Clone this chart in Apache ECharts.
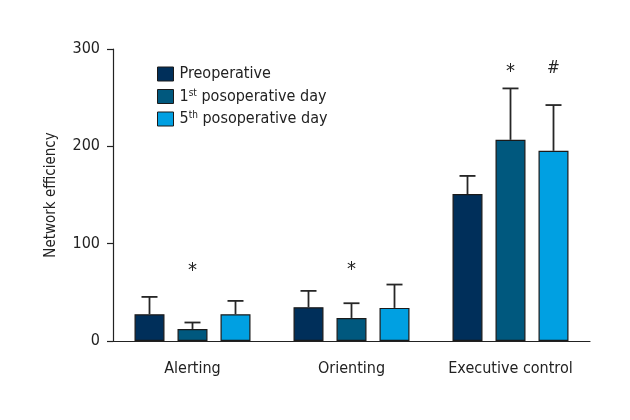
<!DOCTYPE html>
<html><head><meta charset="utf-8">
<script src="https://cdn.jsdelivr.net/npm/echarts@6/dist/echarts.min.js"></script>
<style>html,body{margin:0;padding:0;background:#fff}#c{width:630px;height:420px}</style>
</head><body><div id="c"></div>
<script>
var categories = ['Alerting', 'Orienting', 'Executive control'];
var seriesNames = ['Preoperative', '1st posoperative day', '5th posoperative day'];
var preMean = [27.5, 34.7, 151];
var preErr  = [17.8, 16.8, 18.6];
var day1Mean = [12.4, 23.7, 206.7];
var day1Err  = [6.6, 15.1, 52.8];
var day5Mean = [27.5, 34, 195.4];
var day5Err  = [13.7, 24, 47];
var yTicks = [0, 100, 200, 300];
// annotations: [category index, series index, value, symbol]
var marks = [[0, 1, 75, '*'], [1, 1, 76, '*'], [2, 1, 280, '*'], [2, 2, 280, '#']];

var colors = ['#002f5a', '#00587e', '#00a0e2'];
var FONT = '"Liberation Sans Narrow", "DejaVu Sans Condensed", sans-serif';
var BW = 30, GAP = 13;
var means = [preMean, day1Mean, day5Mean];
var errs = [preErr, day1Err, day5Err];

var chart = echarts.init(document.getElementById('c'));
var series = [];
means.forEach(function (m, i) {
  series.push({
    name: seriesNames[i], type: 'bar', data: m, barWidth: BW, barGap: (GAP / BW * 100) + '%',
    itemStyle: { color: colors[i], borderColor: '#1a1a1a', borderWidth: 1.2 },
    animation: false, z: 2
  });
});
means.forEach(function (m, i) {
  series.push({
    type: 'custom', animation: false, z: 3, silent: true,
    data: m.map(function (v, k) { return [k, v, v + errs[i][k]]; }),
    renderItem: function (params, api) {
      var off = (i - 1) * (BW + GAP);
      var p0 = api.coord([api.value(0), api.value(1)]);
      var p1 = api.coord([api.value(0), api.value(2)]);
      var x = p0[0] + off;
      return { type: 'group', children: [
        { type: 'line', shape: { x1: x, y1: p0[1], x2: x, y2: p1[1] }, style: { stroke: '#262626', lineWidth: 1.8 } },
        { type: 'line', shape: { x1: x - 8, y1: p1[1], x2: x + 8, y2: p1[1] }, style: { stroke: '#262626', lineWidth: 1.8 } }
      ]};
    }
  });
});
series.push({
  type: 'custom', animation: false, z: 4, silent: true,
  data: marks,
  renderItem: function (params, api) {
    var s = api.value(1);
    var p = api.coord([api.value(0), api.value(2)]);
    var off = (s - 1) * (BW + GAP);
    var t = marks[params.dataIndex][3];
    return { type: 'text', x: p[0] + off, y: p[1] + (t === '*' ? 3 : 0), style: {
      text: t, fill: '#222', font: (t === '*' ? '20px ' : '17px ') + FONT, align: 'center', verticalAlign: 'middle' } };
  }
});

chart.setOption({
  animation: false,
  textStyle: { fontFamily: FONT },
  grid: { left: 113, right: 40, top: 49, bottom: 79, containLabel: false },
  legend: {
    left: 157, top: 66, padding: 0, orient: 'vertical', itemWidth: 16, itemHeight: 14, itemGap: 6,
    icon: 'rect',
    data: seriesNames.map(function (n, i) {
      return { name: n, itemStyle: { borderColor: '#1a1a1a', borderWidth: 1 } };
    }),
    formatter: function (n) {
      if (n.indexOf('1st') === 0) return '1{sup|st}{n| posoperative day}';
      if (n.indexOf('5th') === 0) return '5{sup|th}{n| posoperative day}';
      return n;
    },
    textStyle: { fontSize: 16, color: '#222', fontFamily: FONT, padding: [0, 0, 0, 1],
      rich: { sup: { fontSize: 10, verticalAlign: 'top', padding: [0, 0, 7, 0], fontFamily: FONT, color: '#222' },
              n: { fontSize: 16, fontFamily: FONT, color: '#222' } } }
  },
  xAxis: {
    type: 'category', data: categories,
    axisLine: { lineStyle: { color: '#222', width: 1.2 } },
    axisTick: { alignWithLabel: true, length: 8, lineStyle: { color: '#222', width: 1.2 } },
    axisLabel: { interval: 0, fontSize: 16, color: '#222', margin: 20, fontFamily: FONT }
  },
  yAxis: {
    type: 'value', min: 0, max: 300, interval: 100,
    name: 'Network efficiency', nameLocation: 'middle', nameGap: 54, nameRotate: 90,
    nameTextStyle: { fontSize: 15, color: '#222', fontFamily: FONT },
    axisLine: { show: true, lineStyle: { color: '#222', width: 1.2 } },
    axisTick: { show: true, length: 6, lineStyle: { color: '#222', width: 1.2 } },
    axisLabel: { fontSize: 16, color: '#222', margin: 13, fontFamily: FONT,
      formatter: function (v) { return yTicks.indexOf(v) >= 0 ? String(v) : ''; } },
    splitLine: { show: false }
  },
  series: series
});
</script></body></html>
